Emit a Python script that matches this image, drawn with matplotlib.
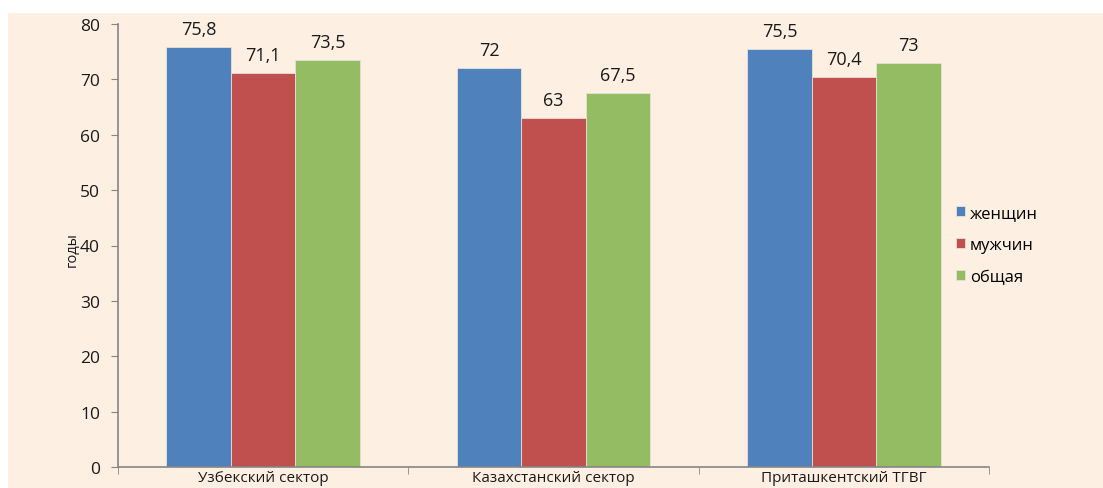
import matplotlib
matplotlib.use("Agg")
import matplotlib.pyplot as plt
from matplotlib.patches import Rectangle
import numpy as np

categories = ["Узбекский сектор", "Казахстанский сектор", "Приташкентский ТГВГ"]
series_names = ["женщин", "мужчин", "общая"]
women = [75.8, 72, 75.5]
men = [71.1, 63, 70.4]
total = [73.5, 67.5, 73]
value_labels = [["75,8", "72", "75,5"], ["71,1", "63", "70,4"], ["73,5", "67,5", "73"]]
colors = ["#4F81BD", "#C0504D", "#94BC62"]
yticks = [0, 10, 20, 30, 40, 50, 60, 70, 80]

plt.rcParams['font.family'] = ['Open Sans', 'DejaVu Sans']

W, H = 1103, 489
fig = plt.figure(figsize=(W / 100, H / 100), dpi=100)
fig.patch.set_facecolor("white")
fig.patches.append(Rectangle((8 / W, 0), 1 - 8 / W, 1 - 14 / H, transform=fig.transFigure,
                             facecolor="#FDF0E2", edgecolor="none", zorder=-10))

ax = fig.add_axes([118 / W, 1 - 468 / H, (989 - 118) / W, (468 - 25) / H])
ax.set_facecolor("none")
ax.set_zorder(1)

x = np.arange(len(categories))
bw = 0.222
data = [women, men, total]
for i, (vals, col, labs) in enumerate(zip(data, colors, value_labels)):
    pos = x + (i - 1) * bw
    ax.bar(pos, vals, width=bw, color=col, edgecolor="#E8E0D8", linewidth=0.6,
           label=series_names[i], zorder=2)
    for p, v, l in zip(pos, vals, labs):
        ax.text(p, v + 1.6, l, ha="center", va="bottom", fontsize=13, color="#1a1a1a")

ax.set_xlim(-0.5, 2.5)
ax.set_ylim(0, 80)
ax.set_yticks(yticks)
ax.set_yticklabels([str(t) for t in yticks], fontsize=12.5, color="#1a1a1a")
ax.set_xticks(x)
ax.set_xticklabels(categories, fontsize=11, color="#1a1a1a")
ax.tick_params(axis="x", length=0, pad=2)
ax.set_xticks([-0.5, 0.5, 1.5, 2.5], minor=True)
ax.tick_params(axis="x", which="minor", length=5, color="#868686", direction="out")
ax.tick_params(axis="y", length=5, color="#868686", direction="out", pad=8)
for s in ["top", "right"]:
    ax.spines[s].set_visible(False)
for s in ["left", "bottom"]:
    ax.spines[s].set_color("#868686")
    ax.spines[s].set_linewidth(1.2)

fig.text(72 / W, 1 - 250 / H, "годы", rotation=90, ha="center", va="center",
         fontsize=10.5, color="#1a1a1a", zorder=5)

leg = ax.legend(loc="center left", bbox_to_anchor=(949 / W, 1 - 246 / H),
                bbox_transform=fig.transFigure, frameon=False, fontsize=12,
                handlelength=0.55, handleheight=0.55, handletextpad=0.3,
                labelspacing=0.95, borderaxespad=0)

fig.savefig("out.png", dpi=100)
